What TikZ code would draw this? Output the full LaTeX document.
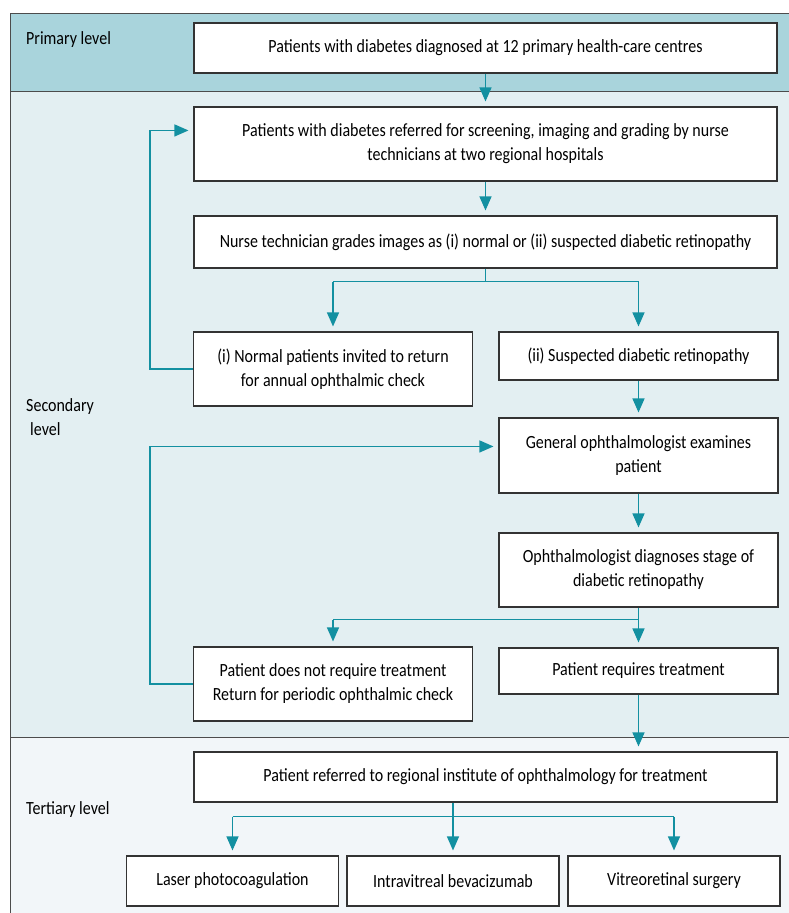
\documentclass[tikz,border=0pt]{standalone}
\usepackage{fontspec}
\setmainfont{Carlito}[FakeStretch=0.86]
\usetikzlibrary{positioning,calc,arrows.meta}

\definecolor{primband}{HTML}{A9D4DC}
\definecolor{secband}{HTML}{E3EFF2}
\definecolor{terband}{HTML}{F2F6F9}
\definecolor{flowteal}{HTML}{1390A1}
\definecolor{boxline}{HTML}{333333}

\tikzset{
  flowbox/.style={draw=boxline, fill=white, line width=1.1pt, align=center,
    inner sep=2pt, font=\fontsize{18.6}{24}\selectfont},
  widebox/.style={flowbox, minimum width=583pt, minimum height=50pt},
  halfbox/.style={flowbox, minimum width=279pt, minimum height=74pt},
  treatbox/.style={flowbox, minimum width=212pt, minimum height=50pt},
  levellabel/.style={anchor=west, align=left, inner sep=0pt,
    font=\fontsize{18.6}{24}\selectfont},
  flowline/.style={draw=flowteal, line width=1.2pt},
  flowarrow/.style={flowline, -{Triangle[length=14pt,width=12pt]}, shorten >=5pt},
  bandline/.style={draw=black!70, line width=0.8pt}
}

\begin{document}
\begin{tikzpicture}[x=1pt,y=-1pt]
  \useasboundingbox (0,0) rectangle (789,913);

  % levels
  \fill[primband] (10,13) rectangle (789,91);
  \fill[secband]  (10,91) rectangle (789,737);
  \fill[terband]  (10,737) rectangle (789,913);
  \draw[bandline] (789,13) -- (10,13) -- (10,913);
  \draw[bandline] (10,91) -- (789,91);
  \draw[bandline] (10,737) -- (789,737);

  \node[levellabel] (primlabel) at (26,40) {Primary level};
  \node[levellabel] (seclabel)  at (26,417) {Secondary\\\hspace*{4pt}level};
  \node[levellabel] (terlabel)  at (26,810) {Tertiary level};

  % primary and secondary level
  \node[widebox] (diagnosed) at (485.5,48) {Patients with diabetes diagnosed at 12 primary health-care centres};
  \node[widebox, minimum height=74pt] (referred) at (485.5,144)
    {Patients with diabetes referred for screening, imaging and grading by nurse\\technicians at two regional hospitals};
  \node[widebox, minimum height=52pt] (grading) at (485.5,242)
    {Nurse technician grades images as (i) normal or (ii) suspected diabetic retinopathy};
  \node[halfbox] (normal) at (333,369)
    {(i) Normal patients invited to return\\for annual ophthalmic check};
  \node[halfbox, minimum height=48pt] (suspected) at (638.5,356) {(ii) Suspected diabetic retinopathy};
  \node[halfbox, minimum height=75pt] (examines) at (638.5,455.5)
    {General ophthalmologist examines\\patient};
  \node[halfbox] (stage) at (638.5,570)
    {Ophthalmologist diagnoses stage of\\diabetic retinopathy};
  \node[halfbox] (notreat) at (333,684)
    {Patient does not require treatment\\Return for periodic ophthalmic check};
  \node[halfbox, minimum height=46pt] (treat) at (638.5,671) {Patient requires treatment};

  % tertiary level
  \node[widebox] (institute) at (485.5,777)
    {Patient referred to regional institute of ophthalmology for treatment};
  \node[treatbox] (laser)  at (232.5,881) {Laser photocoagulation};
  \node[treatbox] (bevac)  at (453,881)   {Intravitreal bevacizumab};
  \node[treatbox] (vitreo) at (674,881)   {Vitreoretinal surgery};

  % connectors
  \draw[flowarrow] (diagnosed) -- (referred);
  \draw[flowarrow] (referred) -- (grading);

  \draw[flowline] (grading.south) -- ++(0,13) coordinate (gradesplit);
  \draw[flowline] (gradesplit -| normal) -- (gradesplit -| suspected);
  \draw[flowarrow] (gradesplit -| normal) -- (normal.north);
  \draw[flowarrow] (gradesplit -| suspected) -- (suspected.north);

  \coordinate (rescreen) at ([yshift=-24pt]referred.north west);
  \draw[flowarrow] (normal.west) -- ++(-43,0) |- (rescreen);

  \draw[flowarrow] (suspected) -- (examines);
  \draw[flowarrow] (examines) -- (stage);

  \draw[flowline] (stage.south) -- ++(0,12) coordinate (stagesplit);
  \draw[flowline] (stagesplit -| notreat) -- (stagesplit);
  \draw[flowarrow] (stagesplit -| notreat) -- (notreat.north);
  \draw[flowarrow] (stagesplit) -- (treat.north);

  \coordinate (reexamine) at ([yshift=-29pt]examines.north west);
  \draw[flowarrow] (notreat.west) -- ++(-43,0) |- (reexamine);

  \draw[flowarrow] (treat.south) -- (treat.south |- institute.north);

  \draw[flowline] (bevac |- institute.south) -- ++(0,14) coordinate (instsplit);
  \draw[flowline] (instsplit -| laser) -- (instsplit -| vitreo);
  \draw[flowarrow] (instsplit -| laser) -- (laser.north);
  \draw[flowarrow] (instsplit) -- (bevac.north);
  \draw[flowarrow] (instsplit -| vitreo) -- (vitreo.north);
\end{tikzpicture}
\end{document}
